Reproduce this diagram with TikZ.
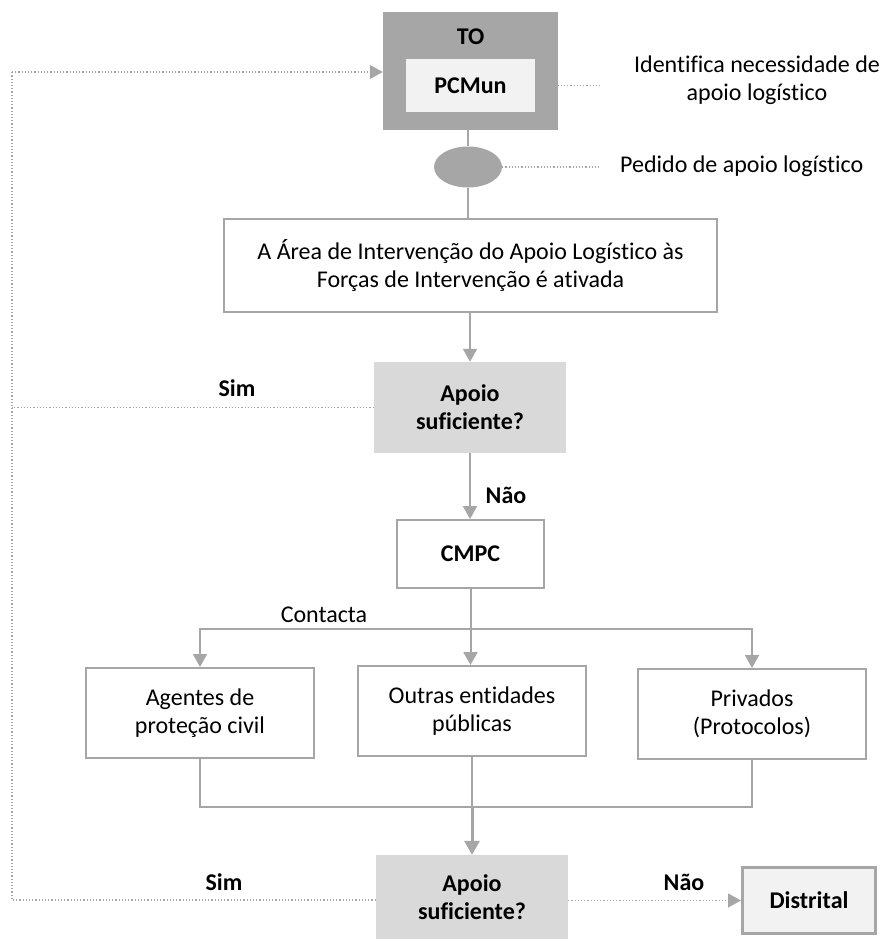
\documentclass[tikz,border=0pt]{standalone}
\usepackage{fontspec}
\setmainfont{Carlito}[Ligatures=NoCommon]
\usetikzlibrary{arrows.meta,shapes.geometric}
\definecolor{lgray}{HTML}{A6A6A6}
\definecolor{dgray}{HTML}{A6A6A6}
\definecolor{pale}{HTML}{F2F2F2}
\definecolor{mid}{HTML}{D9D9D9}
\definecolor{txt}{HTML}{000000}
\begin{document}
\begin{tikzpicture}[x=1pt,y=-1pt,
  every node/.style={font=\fontsize{24}{28}\selectfont, text=txt, inner sep=0pt},
  plainbox/.style={draw=lgray, line width=2pt, fill=white, align=center},
  decbox/.style={fill=mid, align=center, font=\fontsize{24}{28}\selectfont\bfseries},
  conn/.style={draw=lgray, line width=2pt},
  arr/.style={conn, -{Triangle[width=14pt,length=13pt]}},
  dots/.style={draw=lgray, line width=1.2pt, dotted},
  dotarr/.style={dots, -{Triangle[width=14pt,length=13pt]}},
  lbl/.style={font=\fontsize{24}{28}\selectfont\bfseries}
]
\useasboundingbox (0,0) rectangle (884,939);

% top TO box
\node[fill=dgray, minimum width=175pt, minimum height=118pt] (to) at (470.5,71) {};
\node[lbl] (tolbl) at (470.5,37) {TO};
\node[fill=pale, minimum width=129pt, minimum height=53pt, font=\fontsize{24}{28}\selectfont\bfseries] (pcm) at (470.5,85.5) {PCMun};

\node[align=center] (ident) at (757,80) {Identifica necessidade de\\apoio logístico};
\coordinate (identend) at (602,85.5);
\draw[dots] (pcm.east) -- (identend);

% ellipse
\node[ellipse, fill=dgray, minimum width=68pt, minimum height=41pt] (ell) at (468,167) {};
\node[anchor=west] (pedido) at (620,166) {Pedido de apoio logístico};
\coordinate (pedend) at (600,167);
\draw[dots] (ell.east) -- (pedend);

% main box
\node[plainbox, minimum width=493pt, minimum height=93pt] (area) at (470.5,265.5)
  {A Área de Intervenção do Apoio Logístico às\\Forças de Intervenção é ativada};

\draw[conn] (to.south -| ell.north) -- (ell.north);
\draw[conn] (ell.south) -- (area.north -| ell.south);

% decision 1
\node[decbox, minimum width=192pt, minimum height=91pt] (dec1) at (470,407.5) {Apoio\\suficiente?};
\draw[arr] (area.south -| dec1.north) -- (dec1.north);
\node[lbl] (sim1) at (237,388) {Sim};

% CMPC
\node[plainbox, minimum width=147pt, minimum height=68pt, font=\fontsize{24}{28}\selectfont\bfseries] (cmpc) at (470.5,554) {CMPC};
\draw[arr] (dec1.south) -- (cmpc.north -| dec1.south);
\node[lbl] (nao1) at (506,495) {Não};

% three boxes
\node[plainbox, minimum width=228pt, minimum height=90pt] (ag) at (200,713) {Agentes de\\proteção civil};
\node[plainbox, minimum width=228pt, minimum height=90pt] (ou) at (472,711) {Outras entidades\\públicas};
\node[plainbox, minimum width=228pt, minimum height=90pt] (pr) at (752,714) {Privados\\(Protocolos)};

\coordinate (jc) at (470.5,629);
\draw[conn] (cmpc.south) -- (jc);
\draw[arr] (jc) -| (ag.north);
\draw[arr] (jc) -| (pr.north);
\draw[arr] (jc) -- (ou.north -| jc);
\node (contacta) at (324,615) {Contacta};

% decision 2
\node[decbox, minimum width=192pt, minimum height=84pt] (dec2) at (472,897) {Apoio\\suficiente?};
\coordinate (mj) at (472,807);
\draw[conn] (ag.south) -- (ag.south |- mj) -- (pr.south |- mj) -- (pr.south);
\draw[conn] (ou.south) -- (mj);
\draw[conn, line width=3pt, -{Triangle[width=15pt,length=14pt]}] (mj) -- (dec2.north);

% Distrital
\node[draw=lgray, line width=3pt, fill=pale, minimum width=133pt, minimum height=66pt, font=\fontsize{24}{28}\selectfont\bfseries] (dist) at (809,900.5) {Distrital};
\draw[dotarr] (dec2.east |- dist.west) -- (dist.west);
\node[lbl] (nao2) at (684,882) {Não};
\node[lbl] (sim2) at (224,882) {Sim};

% feedback dotted
\coordinate (ltop) at (12,72);
\coordinate (lbot) at (12,900);
\draw[dots] (dec2.west |- lbot) -- (lbot) -- (ltop);
\draw[dotarr] (ltop) -- (to.west |- ltop);
\draw[dots] (dec1.west) -- (dec1.west -| ltop);
\end{tikzpicture}
\end{document}
